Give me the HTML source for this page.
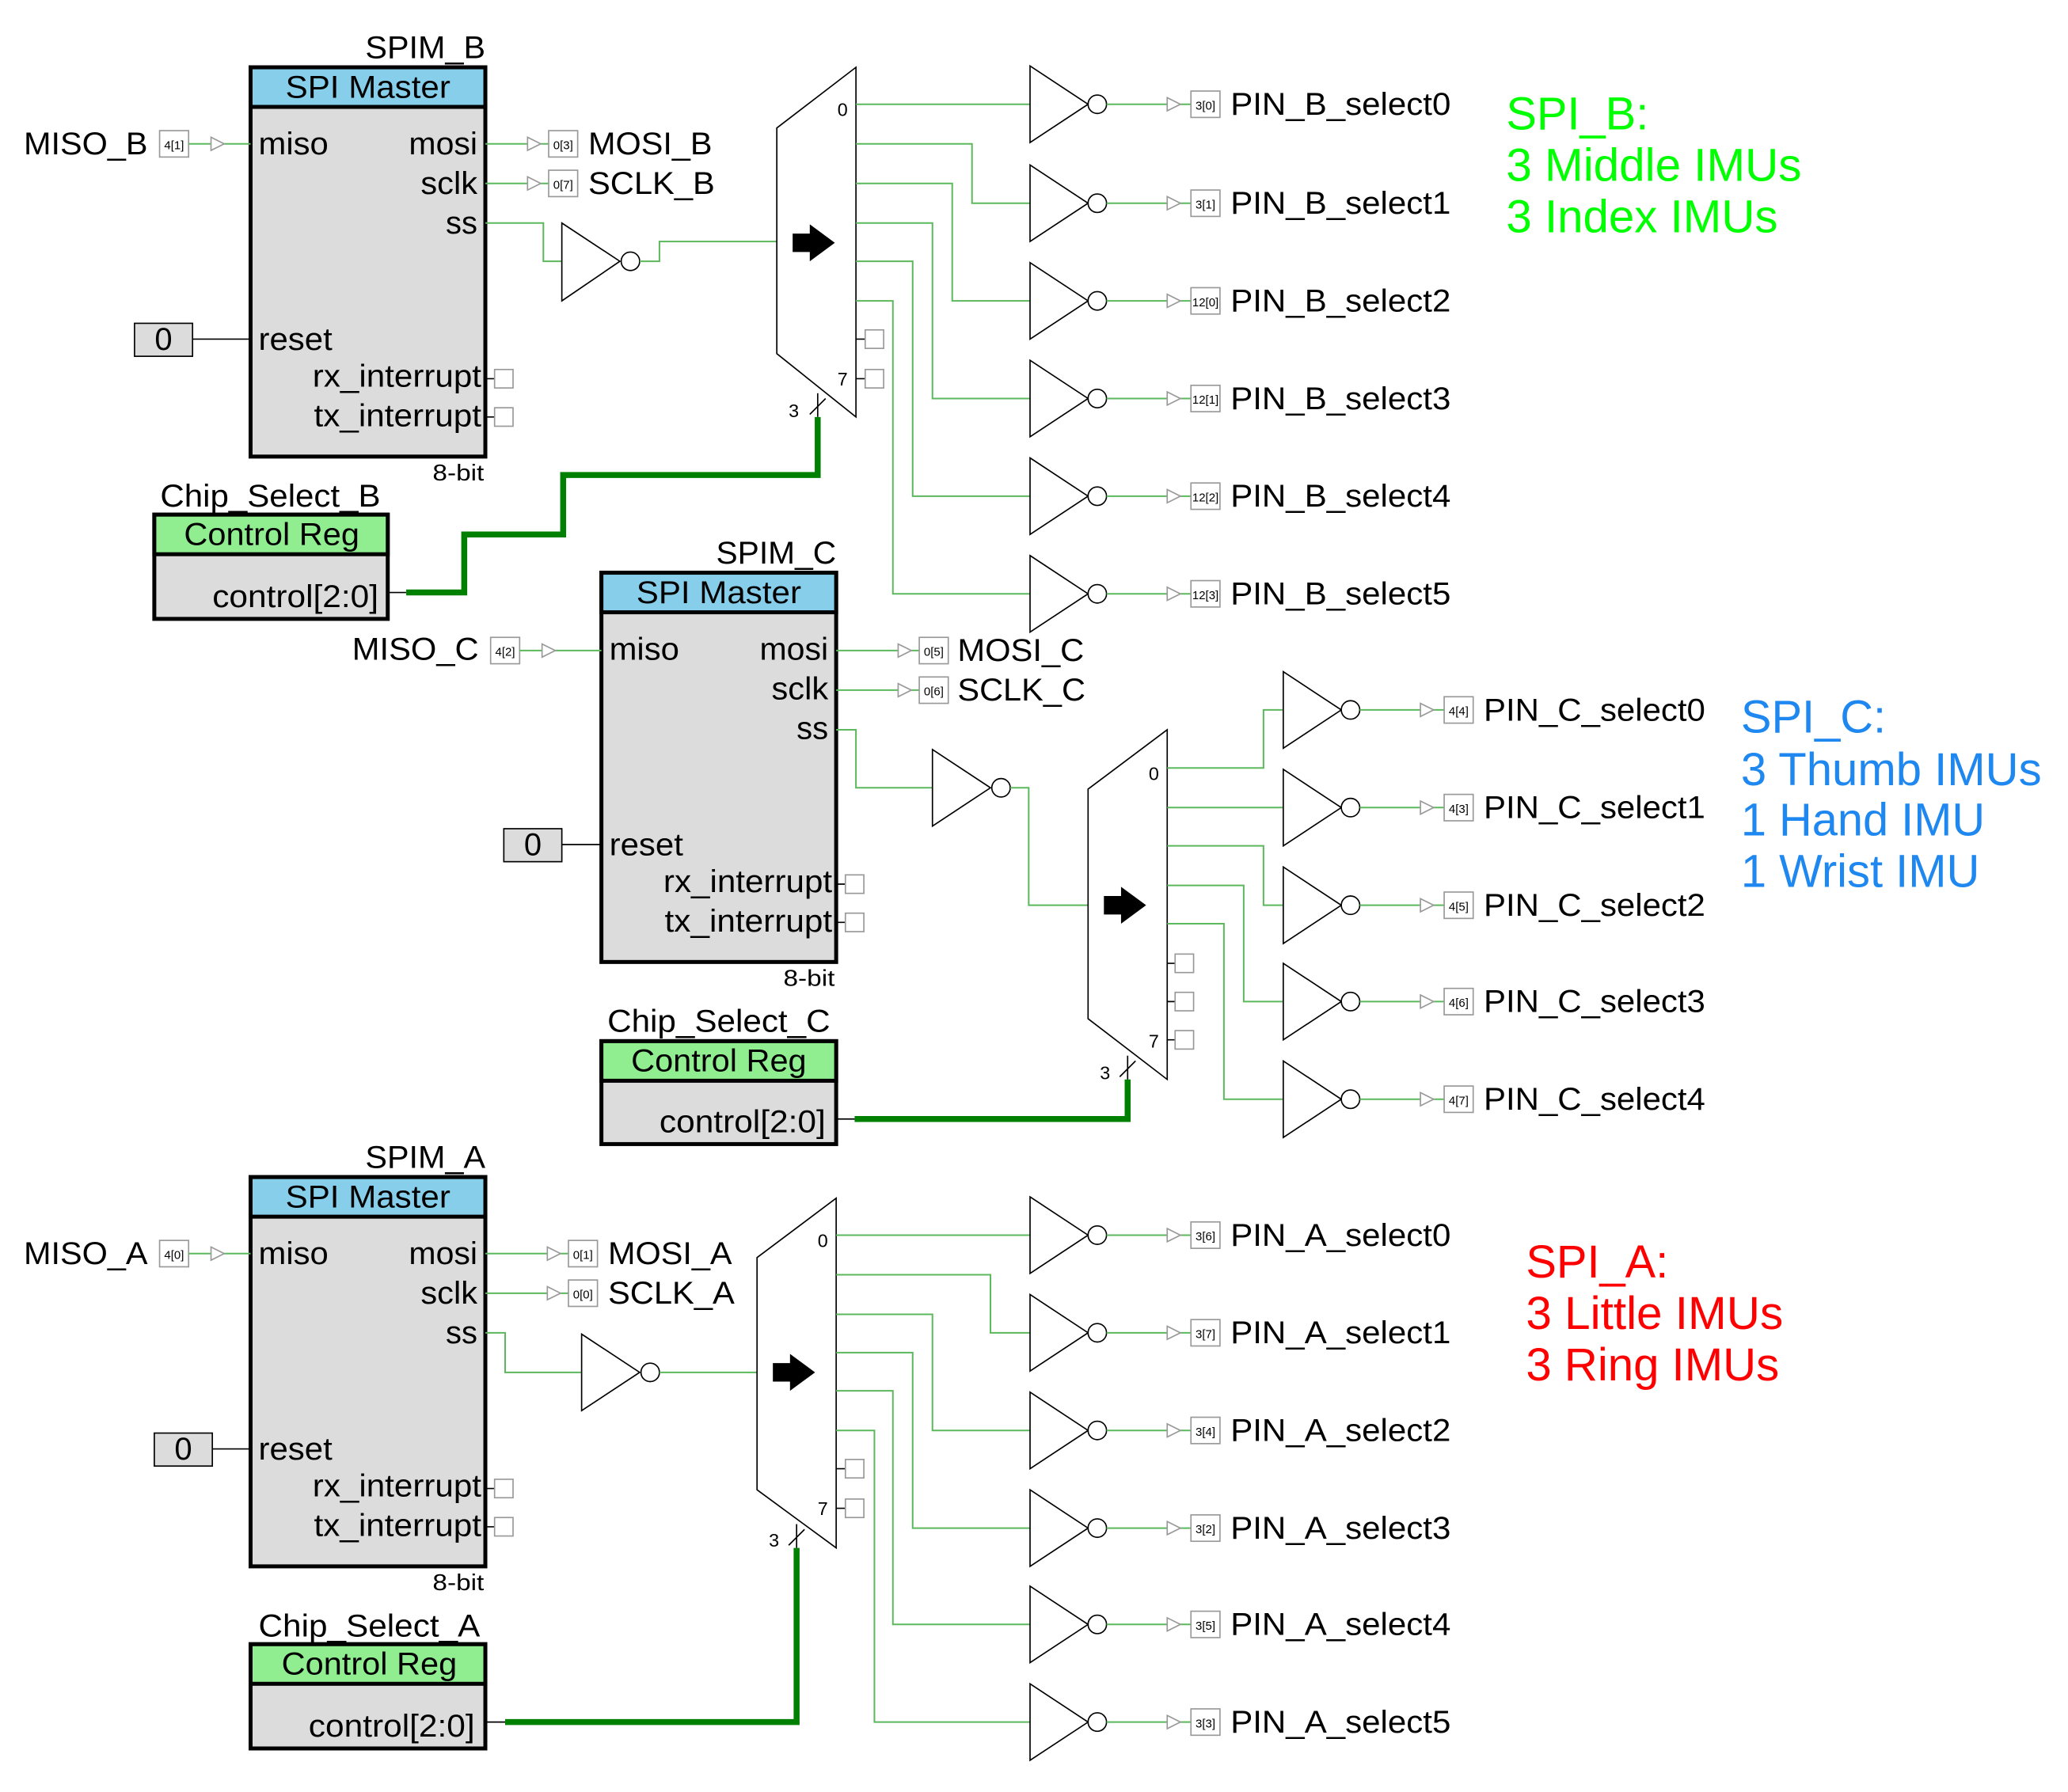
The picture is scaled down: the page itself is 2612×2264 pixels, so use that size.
<!DOCTYPE html>
<html><head><meta charset="utf-8"><style>
html,body{margin:0;padding:0;background:#fff;}
svg{display:block;}
text{font-family:"Liberation Sans Narrow","Liberation Sans",sans-serif;fill:#000;}
.c{font-family:"Liberation Sans",sans-serif;font-size:35px;}
.w{stroke:#5cb85c;stroke-width:1.2;fill:none;}
.k{stroke:#000;stroke-width:1;fill:none;}
.pb{fill:#fff;stroke:#999;stroke-width:1;}
.pt{font-size:9px;}
.L{font-size:24px;}
.tg{fill:#fff;stroke:#999;stroke-width:1;}
.th{stroke:#008000;stroke-width:4.5;fill:none;stroke-linejoin:miter;}
</style></head><body>
<svg width="2612" height="2264" viewBox="0 0 1568 1358" preserveAspectRatio="none" xmlns="http://www.w3.org/2000/svg">
<rect width="1568" height="1358" fill="#fff"/>

<g>
<text x="368" y="44" class="L" text-anchor="end" textLength="91" lengthAdjust="spacingAndGlyphs">SPIM_B</text>
<rect x="190" y="51" width="178" height="295" fill="#dcdcdc" stroke="#000" stroke-width="3"/>
<rect x="190" y="51" width="178" height="30" fill="#87ceeb" stroke="#000" stroke-width="3"/>
<text x="279" y="74" class="L" text-anchor="middle" textLength="125" lengthAdjust="spacingAndGlyphs">SPI Master</text>
<text x="196" y="117" class="L" textLength="53" lengthAdjust="spacingAndGlyphs">miso</text>
<text x="362" y="117" class="L" text-anchor="end" textLength="52" lengthAdjust="spacingAndGlyphs">mosi</text>
<text x="362" y="147" class="L" text-anchor="end" textLength="43" lengthAdjust="spacingAndGlyphs">sclk</text>
<text x="362" y="177" class="L" text-anchor="end" textLength="24" lengthAdjust="spacingAndGlyphs">ss</text>
<text x="196" y="265" class="L" textLength="56" lengthAdjust="spacingAndGlyphs">reset</text>
<text x="365" y="293" class="L" text-anchor="end" textLength="128" lengthAdjust="spacingAndGlyphs">rx_interrupt</text>
<text x="365" y="323" class="L" text-anchor="end" textLength="127" lengthAdjust="spacingAndGlyphs">tx_interrupt</text>
<text x="367" y="364" font-size="17" text-anchor="end" textLength="39" lengthAdjust="spacingAndGlyphs">8-bit</text>
<line x1="368" y1="287" x2="382" y2="287" class="k"/><rect x="375" y="280" width="14" height="14" class="pb"/>
<line x1="368" y1="316" x2="382" y2="316" class="k"/><rect x="375" y="309" width="14" height="14" class="pb"/>
</g>
<g transform="translate(266,383)">
<text x="368" y="44" class="L" text-anchor="end" textLength="91" lengthAdjust="spacingAndGlyphs">SPIM_C</text>
<rect x="190" y="51" width="178" height="295" fill="#dcdcdc" stroke="#000" stroke-width="3"/>
<rect x="190" y="51" width="178" height="30" fill="#87ceeb" stroke="#000" stroke-width="3"/>
<text x="279" y="74" class="L" text-anchor="middle" textLength="125" lengthAdjust="spacingAndGlyphs">SPI Master</text>
<text x="196" y="117" class="L" textLength="53" lengthAdjust="spacingAndGlyphs">miso</text>
<text x="362" y="117" class="L" text-anchor="end" textLength="52" lengthAdjust="spacingAndGlyphs">mosi</text>
<text x="362" y="147" class="L" text-anchor="end" textLength="43" lengthAdjust="spacingAndGlyphs">sclk</text>
<text x="362" y="177" class="L" text-anchor="end" textLength="24" lengthAdjust="spacingAndGlyphs">ss</text>
<text x="196" y="265" class="L" textLength="56" lengthAdjust="spacingAndGlyphs">reset</text>
<text x="365" y="293" class="L" text-anchor="end" textLength="128" lengthAdjust="spacingAndGlyphs">rx_interrupt</text>
<text x="365" y="323" class="L" text-anchor="end" textLength="127" lengthAdjust="spacingAndGlyphs">tx_interrupt</text>
<text x="367" y="364" font-size="17" text-anchor="end" textLength="39" lengthAdjust="spacingAndGlyphs">8-bit</text>
<line x1="368" y1="287" x2="382" y2="287" class="k"/><rect x="375" y="280" width="14" height="14" class="pb"/>
<line x1="368" y1="316" x2="382" y2="316" class="k"/><rect x="375" y="309" width="14" height="14" class="pb"/>
</g>
<g transform="translate(0,841)">
<text x="368" y="44" class="L" text-anchor="end" textLength="91" lengthAdjust="spacingAndGlyphs">SPIM_A</text>
<rect x="190" y="51" width="178" height="295" fill="#dcdcdc" stroke="#000" stroke-width="3"/>
<rect x="190" y="51" width="178" height="30" fill="#87ceeb" stroke="#000" stroke-width="3"/>
<text x="279" y="74" class="L" text-anchor="middle" textLength="125" lengthAdjust="spacingAndGlyphs">SPI Master</text>
<text x="196" y="117" class="L" textLength="53" lengthAdjust="spacingAndGlyphs">miso</text>
<text x="362" y="117" class="L" text-anchor="end" textLength="52" lengthAdjust="spacingAndGlyphs">mosi</text>
<text x="362" y="147" class="L" text-anchor="end" textLength="43" lengthAdjust="spacingAndGlyphs">sclk</text>
<text x="362" y="177" class="L" text-anchor="end" textLength="24" lengthAdjust="spacingAndGlyphs">ss</text>
<text x="196" y="265" class="L" textLength="56" lengthAdjust="spacingAndGlyphs">reset</text>
<text x="365" y="293" class="L" text-anchor="end" textLength="128" lengthAdjust="spacingAndGlyphs">rx_interrupt</text>
<text x="365" y="323" class="L" text-anchor="end" textLength="127" lengthAdjust="spacingAndGlyphs">tx_interrupt</text>
<text x="367" y="364" font-size="17" text-anchor="end" textLength="39" lengthAdjust="spacingAndGlyphs">8-bit</text>
<line x1="368" y1="287" x2="382" y2="287" class="k"/><rect x="375" y="280" width="14" height="14" class="pb"/>
<line x1="368" y1="316" x2="382" y2="316" class="k"/><rect x="375" y="309" width="14" height="14" class="pb"/>
</g>

<text x="18" y="117" class="L" textLength="94" lengthAdjust="spacingAndGlyphs">MISO_B</text>
<rect x="121" y="99" width="22" height="20" class="pb"/><text x="132" y="113" class="pt" text-anchor="middle">4[1]</text>
<line x1="143" y1="109" x2="190" y2="109" class="w"/><polygon points="160,104 170,109 160,114" class="tg"/>
<rect x="102" y="245" width="44" height="25" fill="#dcdcdc" stroke="#000" stroke-width="1"/><text x="124" y="265" class="L" text-anchor="middle">0</text>
<line x1="146" y1="257" x2="190" y2="257" class="k"/>
<text x="267" y="500" class="L" textLength="96" lengthAdjust="spacingAndGlyphs">MISO_C</text>
<rect x="372" y="483" width="22" height="20" class="pb"/><text x="383" y="497" class="pt" text-anchor="middle">4[2]</text>
<line x1="394" y1="493" x2="456" y2="493" class="w"/><polygon points="411,488 421,493 411,498" class="tg"/>
<rect x="382" y="628" width="44" height="25" fill="#dcdcdc" stroke="#000" stroke-width="1"/><text x="404" y="648" class="L" text-anchor="middle">0</text>
<line x1="426" y1="640" x2="456" y2="640" class="k"/>
<text x="18" y="958" class="L" textLength="94" lengthAdjust="spacingAndGlyphs">MISO_A</text>
<rect x="121" y="940" width="22" height="20" class="pb"/><text x="132" y="954" class="pt" text-anchor="middle">4[0]</text>
<line x1="143" y1="950" x2="190" y2="950" class="w"/><polygon points="160,945 170,950 160,955" class="tg"/>
<rect x="117" y="1086" width="44" height="25" fill="#dcdcdc" stroke="#000" stroke-width="1"/><text x="139" y="1106" class="L" text-anchor="middle">0</text>
<line x1="161" y1="1098" x2="190" y2="1098" class="k"/>

<line x1="368" y1="109" x2="416" y2="109" class="w"/><polygon points="400,104 410,109 400,114" class="tg"/>
<rect x="416" y="99" width="22" height="20" class="pb"/><text x="427" y="113" class="pt" text-anchor="middle">0[3]</text>
<text x="446" y="117" class="L" textLength="94" lengthAdjust="spacingAndGlyphs">MOSI_B</text>
<line x1="368" y1="139" x2="416" y2="139" class="w"/><polygon points="400,134 410,139 400,144" class="tg"/>
<rect x="416" y="129" width="22" height="20" class="pb"/><text x="427" y="143" class="pt" text-anchor="middle">0[7]</text>
<text x="446" y="147" class="L" textLength="96" lengthAdjust="spacingAndGlyphs">SCLK_B</text>

<line x1="634" y1="493" x2="697" y2="493" class="w"/><polygon points="681,488 691,493 681,498" class="tg"/>
<rect x="697" y="483" width="22" height="20" class="pb"/><text x="708" y="497" class="pt" text-anchor="middle">0[5]</text>
<text x="726" y="501" class="L" textLength="96" lengthAdjust="spacingAndGlyphs">MOSI_C</text>
<line x1="634" y1="523" x2="697" y2="523" class="w"/><polygon points="681,518 691,523 681,528" class="tg"/>
<rect x="697" y="513" width="22" height="20" class="pb"/><text x="708" y="527" class="pt" text-anchor="middle">0[6]</text>
<text x="726" y="531" class="L" textLength="97" lengthAdjust="spacingAndGlyphs">SCLK_C</text>

<line x1="368" y1="950" x2="431" y2="950" class="w"/><polygon points="415,945 425,950 415,955" class="tg"/>
<rect x="431" y="940" width="22" height="20" class="pb"/><text x="442" y="954" class="pt" text-anchor="middle">0[1]</text>
<text x="461" y="958" class="L" textLength="94" lengthAdjust="spacingAndGlyphs">MOSI_A</text>
<line x1="368" y1="980" x2="431" y2="980" class="w"/><polygon points="415,975 425,980 415,985" class="tg"/>
<rect x="431" y="970" width="22" height="20" class="pb"/><text x="442" y="984" class="pt" text-anchor="middle">0[0]</text>
<text x="461" y="988" class="L" textLength="96" lengthAdjust="spacingAndGlyphs">SCLK_A</text>

<polyline points="368,169 412,169 412,198 426,198" class="w"/>
<polygon points="426,169 470,198 426,228" fill="#fff" stroke="#000"/><circle cx="478" cy="198" r="7" fill="#fff" stroke="#000"/>
<polyline points="485,198 500,198 500,183 589,183" class="w"/>

<polyline points="634,553 649,553 649,597 707,597" class="w"/>
<polygon points="707,568 751,597 707,626" fill="#fff" stroke="#000"/><circle cx="759" cy="597" r="7" fill="#fff" stroke="#000"/>
<polyline points="766,597 780,597 780,686 825,686" class="w"/>

<polyline points="368,1010 383,1010 383,1040 441,1040" class="w"/>
<polygon points="441,1011 485,1040 441,1069" fill="#fff" stroke="#000"/><circle cx="493" cy="1040" r="7" fill="#fff" stroke="#000"/>
<line x1="500" y1="1040" x2="574" y2="1040" class="w"/>

<polygon points="589,97 649,51 649,316 589,268" fill="#fff" stroke="#000"/>
<polygon points="601,177 614,177 614,170 633,184 614,198 614,191 601,191" fill="#000"/>
<text x="635" y="88" font-size="14">0</text><text x="635" y="292" font-size="14">7</text>
<line x1="649" y1="257" x2="664" y2="257" class="k"/><rect x="656" y="250" width="14" height="14" class="pb"/>
<line x1="649" y1="287" x2="664" y2="287" class="k"/><rect x="656" y="280" width="14" height="14" class="pb"/>
<text x="598" y="316" font-size="14">3</text><line x1="620" y1="298" x2="620" y2="316" class="k"/><line x1="614" y1="314" x2="626" y2="302" class="k"/>

<polygon points="825,598 885,553 885,818 825,772" fill="#fff" stroke="#000"/>
<polygon points="837,679 850,679 850,672 869,686 850,700 850,693 837,693" fill="#000"/>
<text x="871" y="591" font-size="14">0</text><text x="871" y="794" font-size="14">7</text>
<line x1="885" y1="730" x2="900" y2="730" class="k"/><rect x="891" y="723" width="14" height="14" class="pb"/>
<line x1="885" y1="759" x2="900" y2="759" class="k"/><rect x="891" y="752" width="14" height="14" class="pb"/>
<line x1="885" y1="788" x2="900" y2="788" class="k"/><rect x="891" y="781" width="14" height="14" class="pb"/>
<text x="834" y="818" font-size="14">3</text><line x1="855" y1="800" x2="855" y2="818" class="k"/><line x1="849" y1="816" x2="861" y2="804" class="k"/>

<polygon points="574,953 634,908 634,1173 574,1129" fill="#fff" stroke="#000"/>
<polygon points="586,1033 599,1033 599,1026 618,1040 599,1054 599,1047 586,1047" fill="#000"/>
<text x="620" y="945" font-size="14">0</text><text x="620" y="1148" font-size="14">7</text>
<line x1="634" y1="1113" x2="649" y2="1113" class="k"/><rect x="641" y="1106" width="14" height="14" class="pb"/>
<line x1="634" y1="1143" x2="649" y2="1143" class="k"/><rect x="641" y="1136" width="14" height="14" class="pb"/>
<text x="583" y="1172" font-size="14">3</text><line x1="604" y1="1155" x2="604" y2="1173" class="k"/><line x1="598" y1="1171" x2="610" y2="1159" class="k"/>

<line x1="649" y1="79" x2="781" y2="79" class="w"/>
<polyline points="649,109 737,109 737,154 781,154" class="w"/>
<polyline points="649,139 722,139 722,228 781,228" class="w"/>
<polyline points="649,169 707,169 707,302 781,302" class="w"/>
<polyline points="649,198 692,198 692,376 781,376" class="w"/>
<polyline points="649,228 677,228 677,450 781,450" class="w"/>

<polyline points="885,582 958,582 958,538 973,538" class="w"/>
<line x1="885" y1="612" x2="973" y2="612" class="w"/>
<polyline points="885,641 958,641 958,686 973,686" class="w"/>
<polyline points="885,671 943,671 943,759 973,759" class="w"/>
<polyline points="885,700 928,700 928,833 973,833" class="w"/>

<line x1="634" y1="936" x2="781" y2="936" class="w"/>
<polyline points="634,966 751,966 751,1010 781,1010" class="w"/>
<polyline points="634,996 707,996 707,1084 781,1084" class="w"/>
<polyline points="634,1025 692,1025 692,1158 781,1158" class="w"/>
<polyline points="634,1054 677,1054 677,1231 781,1231" class="w"/>
<polyline points="634,1084 663,1084 663,1305 781,1305" class="w"/>

<g>
<g transform="translate(781,79)"><polygon points="0,-29 44,0 0,29" fill="#fff" stroke="#000"/><circle cx="51" cy="0" r="7" fill="#fff" stroke="#000"/><line x1="58" y1="0" x2="122" y2="0" class="w"/><polygon points="104,-5 114,0 104,5" class="tg"/><rect x="122" y="-10" width="22" height="20" class="pb"/><text x="133" y="4" class="pt" text-anchor="middle">3[0]</text><text x="152" y="8" class="L" textLength="167" lengthAdjust="spacingAndGlyphs">PIN_B_select0</text></g>
<g transform="translate(781,154)"><polygon points="0,-29 44,0 0,29" fill="#fff" stroke="#000"/><circle cx="51" cy="0" r="7" fill="#fff" stroke="#000"/><line x1="58" y1="0" x2="122" y2="0" class="w"/><polygon points="104,-5 114,0 104,5" class="tg"/><rect x="122" y="-10" width="22" height="20" class="pb"/><text x="133" y="4" class="pt" text-anchor="middle">3[1]</text><text x="152" y="8" class="L" textLength="167" lengthAdjust="spacingAndGlyphs">PIN_B_select1</text></g>
<g transform="translate(781,228)"><polygon points="0,-29 44,0 0,29" fill="#fff" stroke="#000"/><circle cx="51" cy="0" r="7" fill="#fff" stroke="#000"/><line x1="58" y1="0" x2="122" y2="0" class="w"/><polygon points="104,-5 114,0 104,5" class="tg"/><rect x="122" y="-10" width="22" height="20" class="pb"/><text x="133" y="4" class="pt" text-anchor="middle">12[0]</text><text x="152" y="8" class="L" textLength="167" lengthAdjust="spacingAndGlyphs">PIN_B_select2</text></g>
<g transform="translate(781,302)"><polygon points="0,-29 44,0 0,29" fill="#fff" stroke="#000"/><circle cx="51" cy="0" r="7" fill="#fff" stroke="#000"/><line x1="58" y1="0" x2="122" y2="0" class="w"/><polygon points="104,-5 114,0 104,5" class="tg"/><rect x="122" y="-10" width="22" height="20" class="pb"/><text x="133" y="4" class="pt" text-anchor="middle">12[1]</text><text x="152" y="8" class="L" textLength="167" lengthAdjust="spacingAndGlyphs">PIN_B_select3</text></g>
<g transform="translate(781,376)"><polygon points="0,-29 44,0 0,29" fill="#fff" stroke="#000"/><circle cx="51" cy="0" r="7" fill="#fff" stroke="#000"/><line x1="58" y1="0" x2="122" y2="0" class="w"/><polygon points="104,-5 114,0 104,5" class="tg"/><rect x="122" y="-10" width="22" height="20" class="pb"/><text x="133" y="4" class="pt" text-anchor="middle">12[2]</text><text x="152" y="8" class="L" textLength="167" lengthAdjust="spacingAndGlyphs">PIN_B_select4</text></g>
<g transform="translate(781,450)"><polygon points="0,-29 44,0 0,29" fill="#fff" stroke="#000"/><circle cx="51" cy="0" r="7" fill="#fff" stroke="#000"/><line x1="58" y1="0" x2="122" y2="0" class="w"/><polygon points="104,-5 114,0 104,5" class="tg"/><rect x="122" y="-10" width="22" height="20" class="pb"/><text x="133" y="4" class="pt" text-anchor="middle">12[3]</text><text x="152" y="8" class="L" textLength="167" lengthAdjust="spacingAndGlyphs">PIN_B_select5</text></g>
<g transform="translate(973,538)"><polygon points="0,-29 44,0 0,29" fill="#fff" stroke="#000"/><circle cx="51" cy="0" r="7" fill="#fff" stroke="#000"/><line x1="58" y1="0" x2="122" y2="0" class="w"/><polygon points="104,-5 114,0 104,5" class="tg"/><rect x="122" y="-10" width="22" height="20" class="pb"/><text x="133" y="4" class="pt" text-anchor="middle">4[4]</text><text x="152" y="8" class="L" textLength="168" lengthAdjust="spacingAndGlyphs">PIN_C_select0</text></g>
<g transform="translate(973,612)"><polygon points="0,-29 44,0 0,29" fill="#fff" stroke="#000"/><circle cx="51" cy="0" r="7" fill="#fff" stroke="#000"/><line x1="58" y1="0" x2="122" y2="0" class="w"/><polygon points="104,-5 114,0 104,5" class="tg"/><rect x="122" y="-10" width="22" height="20" class="pb"/><text x="133" y="4" class="pt" text-anchor="middle">4[3]</text><text x="152" y="8" class="L" textLength="168" lengthAdjust="spacingAndGlyphs">PIN_C_select1</text></g>
<g transform="translate(973,686)"><polygon points="0,-29 44,0 0,29" fill="#fff" stroke="#000"/><circle cx="51" cy="0" r="7" fill="#fff" stroke="#000"/><line x1="58" y1="0" x2="122" y2="0" class="w"/><polygon points="104,-5 114,0 104,5" class="tg"/><rect x="122" y="-10" width="22" height="20" class="pb"/><text x="133" y="4" class="pt" text-anchor="middle">4[5]</text><text x="152" y="8" class="L" textLength="168" lengthAdjust="spacingAndGlyphs">PIN_C_select2</text></g>
<g transform="translate(973,759)"><polygon points="0,-29 44,0 0,29" fill="#fff" stroke="#000"/><circle cx="51" cy="0" r="7" fill="#fff" stroke="#000"/><line x1="58" y1="0" x2="122" y2="0" class="w"/><polygon points="104,-5 114,0 104,5" class="tg"/><rect x="122" y="-10" width="22" height="20" class="pb"/><text x="133" y="4" class="pt" text-anchor="middle">4[6]</text><text x="152" y="8" class="L" textLength="168" lengthAdjust="spacingAndGlyphs">PIN_C_select3</text></g>
<g transform="translate(973,833)"><polygon points="0,-29 44,0 0,29" fill="#fff" stroke="#000"/><circle cx="51" cy="0" r="7" fill="#fff" stroke="#000"/><line x1="58" y1="0" x2="122" y2="0" class="w"/><polygon points="104,-5 114,0 104,5" class="tg"/><rect x="122" y="-10" width="22" height="20" class="pb"/><text x="133" y="4" class="pt" text-anchor="middle">4[7]</text><text x="152" y="8" class="L" textLength="168" lengthAdjust="spacingAndGlyphs">PIN_C_select4</text></g>
<g transform="translate(781,936)"><polygon points="0,-29 44,0 0,29" fill="#fff" stroke="#000"/><circle cx="51" cy="0" r="7" fill="#fff" stroke="#000"/><line x1="58" y1="0" x2="122" y2="0" class="w"/><polygon points="104,-5 114,0 104,5" class="tg"/><rect x="122" y="-10" width="22" height="20" class="pb"/><text x="133" y="4" class="pt" text-anchor="middle">3[6]</text><text x="152" y="8" class="L" textLength="167" lengthAdjust="spacingAndGlyphs">PIN_A_select0</text></g>
<g transform="translate(781,1010)"><polygon points="0,-29 44,0 0,29" fill="#fff" stroke="#000"/><circle cx="51" cy="0" r="7" fill="#fff" stroke="#000"/><line x1="58" y1="0" x2="122" y2="0" class="w"/><polygon points="104,-5 114,0 104,5" class="tg"/><rect x="122" y="-10" width="22" height="20" class="pb"/><text x="133" y="4" class="pt" text-anchor="middle">3[7]</text><text x="152" y="8" class="L" textLength="167" lengthAdjust="spacingAndGlyphs">PIN_A_select1</text></g>
<g transform="translate(781,1084)"><polygon points="0,-29 44,0 0,29" fill="#fff" stroke="#000"/><circle cx="51" cy="0" r="7" fill="#fff" stroke="#000"/><line x1="58" y1="0" x2="122" y2="0" class="w"/><polygon points="104,-5 114,0 104,5" class="tg"/><rect x="122" y="-10" width="22" height="20" class="pb"/><text x="133" y="4" class="pt" text-anchor="middle">3[4]</text><text x="152" y="8" class="L" textLength="167" lengthAdjust="spacingAndGlyphs">PIN_A_select2</text></g>
<g transform="translate(781,1158)"><polygon points="0,-29 44,0 0,29" fill="#fff" stroke="#000"/><circle cx="51" cy="0" r="7" fill="#fff" stroke="#000"/><line x1="58" y1="0" x2="122" y2="0" class="w"/><polygon points="104,-5 114,0 104,5" class="tg"/><rect x="122" y="-10" width="22" height="20" class="pb"/><text x="133" y="4" class="pt" text-anchor="middle">3[2]</text><text x="152" y="8" class="L" textLength="167" lengthAdjust="spacingAndGlyphs">PIN_A_select3</text></g>
<g transform="translate(781,1231)"><polygon points="0,-29 44,0 0,29" fill="#fff" stroke="#000"/><circle cx="51" cy="0" r="7" fill="#fff" stroke="#000"/><line x1="58" y1="0" x2="122" y2="0" class="w"/><polygon points="104,-5 114,0 104,5" class="tg"/><rect x="122" y="-10" width="22" height="20" class="pb"/><text x="133" y="4" class="pt" text-anchor="middle">3[5]</text><text x="152" y="8" class="L" textLength="167" lengthAdjust="spacingAndGlyphs">PIN_A_select4</text></g>
<g transform="translate(781,1305)"><polygon points="0,-29 44,0 0,29" fill="#fff" stroke="#000"/><circle cx="51" cy="0" r="7" fill="#fff" stroke="#000"/><line x1="58" y1="0" x2="122" y2="0" class="w"/><polygon points="104,-5 114,0 104,5" class="tg"/><rect x="122" y="-10" width="22" height="20" class="pb"/><text x="133" y="4" class="pt" text-anchor="middle">3[3]</text><text x="152" y="8" class="L" textLength="167" lengthAdjust="spacingAndGlyphs">PIN_A_select5</text></g>
</g>

<text x="205" y="384" class="L" text-anchor="middle" textLength="167" lengthAdjust="spacingAndGlyphs">Chip_Select_B</text>
<rect x="117" y="390" width="177" height="79" fill="#dcdcdc" stroke="#000" stroke-width="3"/>
<rect x="117" y="390" width="177" height="30" fill="#90ee90" stroke="#000" stroke-width="3"/>
<text x="206" y="413" class="L" text-anchor="middle" textLength="133" lengthAdjust="spacingAndGlyphs">Control Reg</text>
<text x="287" y="460" class="L" text-anchor="end" textLength="126" lengthAdjust="spacingAndGlyphs">control[2:0]</text>
<line x1="294" y1="449" x2="308" y2="449" class="k"/>
<polyline points="308,449 352,449 352,405 427,405 427,360 620,360 620,316" class="th"/>

<text x="545" y="782" class="L" text-anchor="middle" textLength="169" lengthAdjust="spacingAndGlyphs">Chip_Select_C</text>
<rect x="456" y="789" width="178" height="78" fill="#dcdcdc" stroke="#000" stroke-width="3"/>
<rect x="456" y="789" width="178" height="30" fill="#90ee90" stroke="#000" stroke-width="3"/>
<text x="545" y="812" class="L" text-anchor="middle" textLength="133" lengthAdjust="spacingAndGlyphs">Control Reg</text>
<text x="626" y="858" class="L" text-anchor="end" textLength="126" lengthAdjust="spacingAndGlyphs">control[2:0]</text>
<line x1="634" y1="848" x2="648" y2="848" class="k"/>
<polyline points="648,848 855,848 855,818" class="th"/>

<text x="280" y="1240" class="L" text-anchor="middle" textLength="168" lengthAdjust="spacingAndGlyphs">Chip_Select_A</text>
<rect x="190" y="1246" width="178" height="79" fill="#dcdcdc" stroke="#000" stroke-width="3"/>
<rect x="190" y="1246" width="178" height="30" fill="#90ee90" stroke="#000" stroke-width="3"/>
<text x="280" y="1269" class="L" text-anchor="middle" textLength="133" lengthAdjust="spacingAndGlyphs">Control Reg</text>
<text x="360" y="1316" class="L" text-anchor="end" textLength="126" lengthAdjust="spacingAndGlyphs">control[2:0]</text>
<line x1="368" y1="1305" x2="383" y2="1305" class="k"/>
<polyline points="383,1305 604,1305 604,1173" class="th"/>

<text x="1142" y="98" class="c" style="fill:#00ff00" textLength="108" lengthAdjust="spacingAndGlyphs">SPI_B:</text>
<text x="1142" y="137" class="c" style="fill:#00ff00" textLength="224" lengthAdjust="spacingAndGlyphs">3 Middle IMUs</text>
<text x="1142" y="176" class="c" style="fill:#00ff00" textLength="206" lengthAdjust="spacingAndGlyphs">3 Index IMUs</text>
<text x="1320" y="555" class="c" style="fill:#1e88f0" textLength="110" lengthAdjust="spacingAndGlyphs">SPI_C:</text>
<text x="1320" y="595" class="c" style="fill:#1e88f0" textLength="228" lengthAdjust="spacingAndGlyphs">3 Thumb IMUs</text>
<text x="1320" y="633" class="c" style="fill:#1e88f0" textLength="185" lengthAdjust="spacingAndGlyphs">1 Hand IMU</text>
<text x="1320" y="672" class="c" style="fill:#1e88f0" textLength="181" lengthAdjust="spacingAndGlyphs">1 Wrist IMU</text>
<text x="1157" y="968" class="c" style="fill:#ff0000" textLength="108" lengthAdjust="spacingAndGlyphs">SPI_A:</text>
<text x="1157" y="1007" class="c" style="fill:#ff0000" textLength="195" lengthAdjust="spacingAndGlyphs">3 Little IMUs</text>
<text x="1157" y="1046" class="c" style="fill:#ff0000" textLength="192" lengthAdjust="spacingAndGlyphs">3 Ring IMUs</text>
</svg>
</body></html>
